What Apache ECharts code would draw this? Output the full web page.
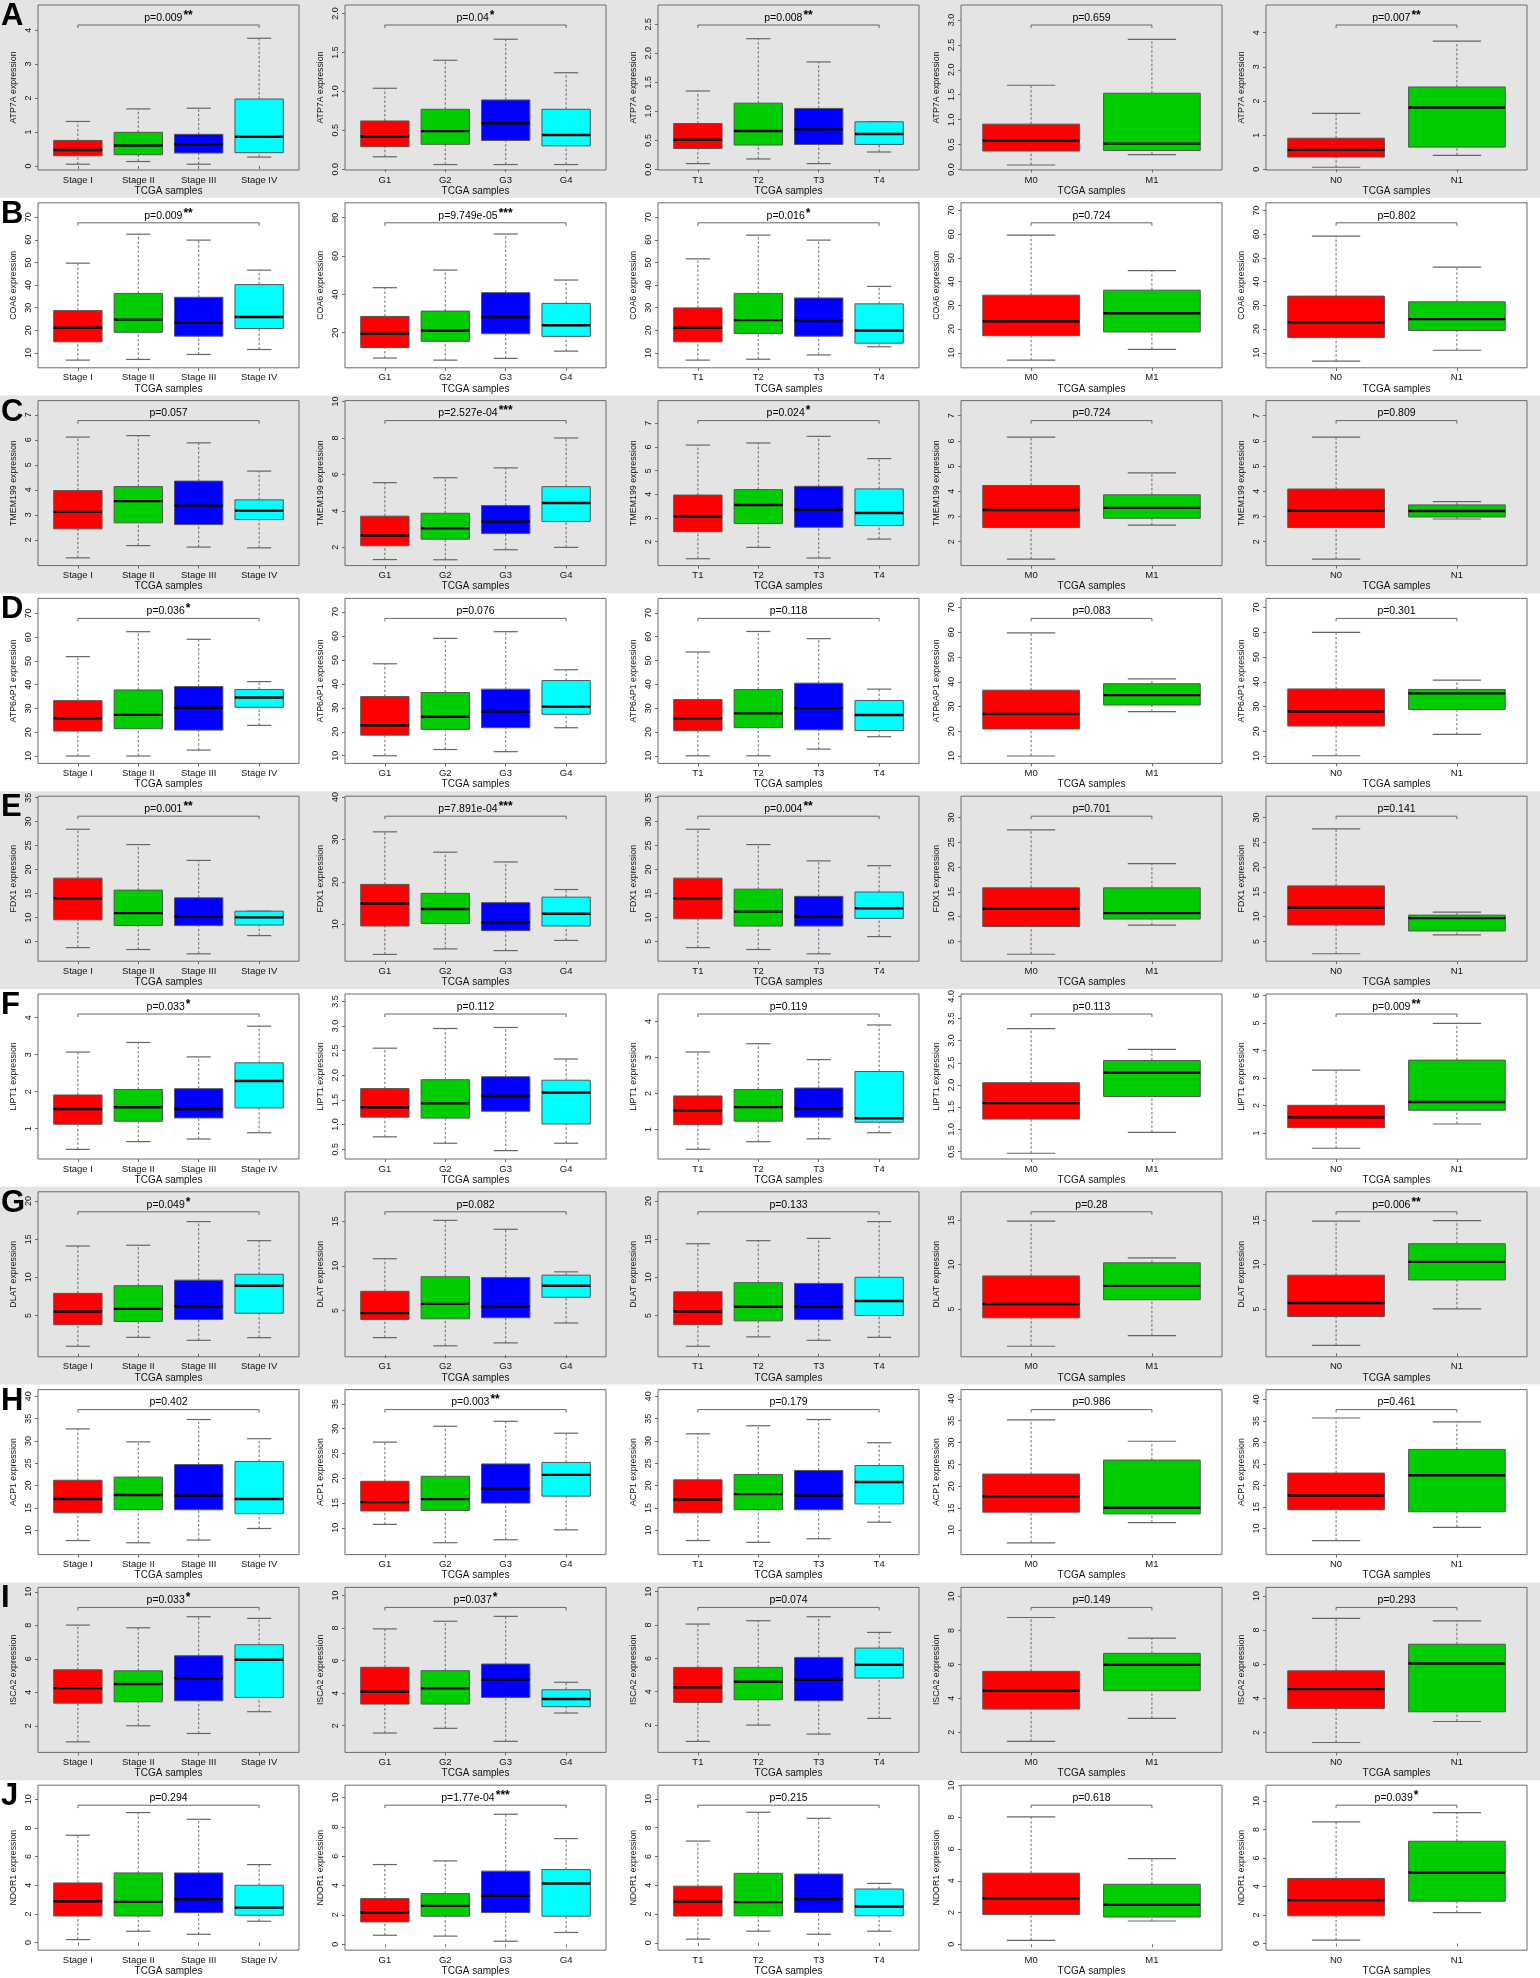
<!DOCTYPE html>
<html><head><meta charset="utf-8">
<script src="https://cdn.jsdelivr.net/npm/echarts@6/dist/echarts.min.js"></script>
<style>html,body{margin:0;padding:0;background:#fff}#c{width:1540px;height:1978px}</style>
</head><body><div id="c"></div>
<script>
// ---------- categories ----------
const stageGroups = ['Stage I', 'Stage II', 'Stage III', 'Stage IV'];
const gradeGroups = ['G1', 'G2', 'G3', 'G4'];
const tGroups = ['T1', 'T2', 'T3', 'T4'];
const mGroups = ['M0', 'M1'];
const nGroups = ['N0', 'N1'];
const panelGroups = [stageGroups, gradeGroups, tGroups, mGroups, nGroups];
const genes = ['ATP7A', 'COA6', 'TMEM199', 'ATP6AP1', 'FDX1', 'LIPT1', 'DLAT', 'ACP1', 'ISCA2', 'NDOR1'];
const rowLetters = ['A', 'B', 'C', 'D', 'E', 'F', 'G', 'H', 'I', 'J'];
const groupColors = ['#FF0000', '#00CD00', '#0000FF', '#00FFFF'];

// ---------- box statistics: [whisker low, Q1, median, Q3, whisker high] ----------
const ATP7A_box = [
  [[0.05,0.30,0.47,0.75,1.31],[0.13,0.33,0.60,0.99,1.68],[0.05,0.38,0.64,0.93,1.70],[0.26,0.39,0.86,1.97,3.76]],
  [[0.16,0.29,0.42,0.62,1.04],[0.06,0.32,0.49,0.77,1.40],[0.06,0.37,0.59,0.89,1.67],[0.06,0.30,0.44,0.77,1.24]],
  [[0.10,0.36,0.51,0.79,1.35],[0.18,0.42,0.66,1.14,2.25],[0.10,0.43,0.69,1.05,1.85],[0.30,0.43,0.61,0.82,0.82]],
  [[0.09,0.37,0.58,0.91,1.69],[0.30,0.38,0.52,1.53,2.61]],
  [[0.06,0.36,0.57,0.91,1.64],[0.41,0.65,1.81,2.41,3.75]]
];
const COA6_box = [
  [[6.8,14.9,21.1,28.7,49.7],[7.1,19.1,24.7,36.3,62.5],[9.3,17.4,23.3,34.6,59.9],[11.5,20.8,25.9,40.2,46.6]],
  [[6.8,12.3,19.5,28.5,43.5],[5.7,15.5,21.2,31.3,52.7],[6.6,19.5,28.2,40.9,71.5],[10.4,18.1,23.9,35.3,47.5]],
  [[6.8,14.9,21.1,29.9,51.6],[7.2,18.6,24.5,36.3,62.1],[9.1,17.4,24.3,34.3,59.9],[12.7,14.3,19.9,31.7,39.4]],
  [[6.9,17.2,23.3,34.3,59.6],[11.5,18.8,26.7,36.4,44.6]],
  [[6.5,16.5,22.9,33.9,59.2],[11.1,19.4,24.2,31.5,46.1]]
];
const TMEM199_box = [
  [[1.28,2.44,3.12,3.97,6.11],[1.77,2.68,3.55,4.13,6.17],[1.71,2.61,3.37,4.35,5.88],[1.68,2.81,3.17,3.60,4.75]],
  [[1.33,2.09,2.65,3.71,5.55],[1.32,2.45,3.05,3.87,5.82],[1.87,2.76,3.42,4.29,6.36],[2.00,3.42,4.43,5.33,8.00]],
  [[1.28,2.42,3.07,3.97,6.08],[1.76,2.77,3.55,4.20,6.17],[1.31,2.61,3.35,4.34,6.45],[2.11,2.68,3.21,4.23,5.51]],
  [[1.31,2.56,3.26,4.23,6.15],[2.66,2.93,3.34,3.86,4.73]],
  [[1.31,2.56,3.23,4.09,6.15],[2.90,2.98,3.22,3.46,3.59]]
];
const ATP6AP1_box = [
  [[10.0,20.5,25.9,33.3,51.8],[10.0,21.5,27.3,37.8,62.3],[12.5,20.9,30.3,39.2,59.1],[22.9,30.5,34.6,38.0,41.3]],
  [[10.0,18.6,22.7,34.7,48.4],[12.6,21.0,26.3,36.4,59.0],[11.7,21.7,28.4,37.8,61.8],[21.7,27.3,30.5,41.4,45.9]],
  [[10.0,20.5,25.7,33.6,53.6],[10.0,21.8,27.8,37.8,62.2],[12.8,20.9,30.0,40.5,59.2],[18.0,20.6,27.1,33.2,38.0]],
  [[10.0,20.9,27.0,36.6,59.8],[27.9,30.6,34.6,39.2,41.2]],
  [[10.1,22.1,28.0,37.1,60.0],[18.7,28.8,35.3,36.9,40.7]]
];
const FDX1_box = [
  [[3.7,9.5,14.0,18.2,28.4],[3.3,8.3,10.9,15.7,25.2],[2.4,8.3,10.2,14.1,21.9],[6.2,8.4,10.0,11.3,11.3]],
  [[2.9,9.6,14.9,19.4,31.8],[4.2,10.2,13.6,17.3,27.0],[3.8,8.5,10.5,15.1,24.7],[6.2,9.6,12.5,16.4,18.2]],
  [[3.7,9.7,14.0,18.2,28.4],[3.3,8.2,11.2,15.9,25.2],[2.4,8.2,10.2,14.4,21.8],[6.0,9.8,11.9,15.3,20.8]],
  [[2.4,8.0,11.6,15.8,27.5],[8.3,9.5,10.7,15.8,20.7]],
  [[2.5,8.3,11.8,16.2,27.7],[6.3,7.1,9.7,10.3,10.9]]
];
const LIPT1_box = [
  [[0.44,1.12,1.53,1.91,3.07],[0.65,1.20,1.58,2.06,3.33],[0.72,1.29,1.53,2.08,2.94],[0.89,1.56,2.29,2.78,3.77]],
  [[0.75,1.15,1.35,1.73,2.55],[0.62,1.13,1.43,1.91,2.95],[0.47,1.27,1.58,1.97,2.97],[0.62,1.01,1.65,1.90,2.33]],
  [[0.45,1.13,1.53,1.93,3.15],[0.66,1.23,1.62,2.11,3.38],[0.74,1.34,1.58,2.15,2.94],[0.91,1.20,1.31,2.61,3.90]],
  [[0.46,1.23,1.59,2.05,3.27],[0.93,1.74,2.28,2.55,2.80]],
  [[0.45,1.20,1.57,2.01,3.29],[1.33,1.83,2.13,3.65,4.98]]
];
const DLAT_box = [
  [[0.97,3.79,5.52,7.90,14.1],[2.14,4.22,5.87,8.90,14.2],[1.75,4.48,6.21,9.63,17.3],[2.10,5.30,8.90,10.4,14.8]],
  [[1.96,4.00,4.70,7.15,10.8],[1.04,4.07,5.74,8.78,15.1],[1.37,4.19,5.44,8.70,14.1],[3.60,6.48,7.78,8.96,9.33]],
  [[0.97,3.79,5.52,8.10,14.4],[2.20,4.30,6.15,9.30,14.8],[1.75,4.48,6.15,9.20,15.1],[2.14,5.00,6.90,10.0,17.3]],
  [[0.80,4.00,5.56,8.72,14.9],[1.99,6.04,7.60,10.2,10.76]],
  [[0.90,4.15,5.67,8.80,14.9],[5.00,8.27,10.3,12.35,14.95]]
];
const ACP1_box = [
  [[7.7,13.9,17.0,21.2,32.7],[7.2,14.6,17.9,21.9,29.8],[7.8,14.6,17.8,24.7,34.8],[10.4,13.7,17.0,25.4,30.5]],
  [[10.7,13.4,15.2,19.4,27.3],[7.0,13.5,15.8,20.4,30.5],[7.6,15.0,17.9,22.9,31.5],[9.6,16.4,20.7,23.2,29.1]],
  [[7.7,13.9,16.9,21.3,31.6],[7.3,14.6,18.1,22.5,33.4],[8.1,14.6,17.8,23.4,34.8],[11.8,15.9,20.8,24.5,29.6]],
  [[7.1,14.1,17.7,22.8,35.2],[11.7,13.7,15.1,26.0,30.3]],
  [[7.2,14.4,17.7,22.9,35.7],[10.3,13.9,22.4,28.4,34.8]]
];
const ISCA2_box = [
  [[1.04,3.35,4.25,5.34,8.01],[2.00,3.43,4.49,5.28,7.85],[1.54,3.49,4.84,6.18,8.51],[2.84,3.69,5.94,6.84,8.41]],
  [[1.55,3.33,4.09,5.59,7.95],[1.84,3.33,4.30,5.38,8.42],[1.04,3.74,4.83,5.79,8.72],[2.78,3.17,3.64,4.21,4.67]],
  [[1.02,3.36,4.26,5.46,8.06],[2.00,3.52,4.60,5.46,8.26],[1.46,3.46,4.72,6.06,8.50],[2.40,4.82,5.62,6.62,7.56]],
  [[1.47,3.37,4.45,5.59,8.76],[2.82,4.45,5.98,6.65,7.55]],
  [[1.41,3.40,4.54,5.61,8.68],[2.64,3.21,6.04,7.17,8.54]]
];
const NDOR1_box = [
  [[0.21,1.86,2.88,4.16,7.49],[0.79,1.86,2.84,4.86,9.07],[0.58,2.09,3.02,4.86,8.60],[1.49,1.91,2.44,4.00,5.44]],
  [[0.61,1.52,2.16,3.11,5.43],[0.55,1.91,2.61,3.45,5.68],[0.20,2.16,3.30,4.98,8.86],[0.80,1.91,4.14,5.09,7.20]],
  [[0.26,1.86,2.85,3.94,7.07],[0.81,1.88,2.83,4.83,9.07],[0.60,2.11,3.04,4.78,8.65],[0.81,1.88,2.53,3.74,4.13]],
  [[0.25,1.88,2.90,4.48,8.02],[1.47,1.72,2.49,3.78,5.40]],
  [[0.23,1.94,3.04,4.56,8.53],[2.17,2.97,4.98,7.17,9.18]]
];

// ---------- p values: [text, stars] ----------
const ATP7A_p   = [['p=0.009','**'],['p=0.04','*'],['p=0.008','**'],['p=0.659',''],['p=0.007','**']];
const COA6_p    = [['p=0.009','**'],['p=9.749e-05','***'],['p=0.016','*'],['p=0.724',''],['p=0.802','']];
const TMEM199_p = [['p=0.057',''],['p=2.527e-04','***'],['p=0.024','*'],['p=0.724',''],['p=0.809','']];
const ATP6AP1_p = [['p=0.036','*'],['p=0.076',''],['p=0.118',''],['p=0.083',''],['p=0.301','']];
const FDX1_p    = [['p=0.001','**'],['p=7.891e-04','***'],['p=0.004','**'],['p=0.701',''],['p=0.141','']];
const LIPT1_p   = [['p=0.033','*'],['p=0.112',''],['p=0.119',''],['p=0.113',''],['p=0.009','**']];
const DLAT_p    = [['p=0.049','*'],['p=0.082',''],['p=0.133',''],['p=0.28',''],['p=0.006','**']];
const ACP1_p    = [['p=0.402',''],['p=0.003','**'],['p=0.179',''],['p=0.986',''],['p=0.461','']];
const ISCA2_p   = [['p=0.033','*'],['p=0.037','*'],['p=0.074',''],['p=0.149',''],['p=0.293','']];
const NDOR1_p   = [['p=0.294',''],['p=1.77e-04','***'],['p=0.215',''],['p=0.618',''],['p=0.039','*']];

// ---------- y tick labels ----------
const t10_70 = [10,20,30,40,50,60,70];
const ATP7A_ticks   = [[0,1,2,3,4],[0,0.5,1,1.5,2],[0,0.5,1,1.5,2,2.5],[0,0.5,1,1.5,2,2.5,3],[0,1,2,3,4]];
const COA6_ticks    = [t10_70,[20,40,60,80],t10_70,t10_70,t10_70];
const TMEM199_ticks = [[2,3,4,5,6,7],[2,4,6,8,10],[2,3,4,5,6,7],[2,3,4,5,6,7],[2,3,4,5,6,7]];
const ATP6AP1_ticks = [t10_70,t10_70,t10_70,t10_70,t10_70];
const FDX1_ticks    = [[5,10,15,20,25,30,35],[10,20,30,40],[5,10,15,20,25,30,35],[5,10,15,20,25,30],[5,10,15,20,25,30]];
const LIPT1_ticks   = [[1,2,3,4],[0.5,1,1.5,2,2.5,3,3.5],[1,2,3,4],[0.5,1,1.5,2,2.5,3,3.5,4],[1,2,3,4,5,6]];
const DLAT_ticks    = [[5,10,15,20],[5,10,15],[5,10,15,20],[5,10,15],[5,10,15]];
const ACP1_ticks    = [[10,15,20,25,30,35,40],[10,15,20,25,30,35],[10,15,20,25,30,35,40],[10,15,20,25,30,35,40],[10,15,20,25,30,35,40]];
const ISCA2_ticks   = [[2,4,6,8,10],[2,4,6,8,10],[2,4,6,8,10],[2,4,6,8,10],[2,4,6,8,10]];
const NDOR1_ticks   = [[0,2,4,6,8,10],[0,2,4,6,8,10],[0,2,4,6,8,10],[0,2,4,6,8,10],[0,2,4,6,8,10]];

// ---------- y axis extents [min, max] ----------
const ATP7A_range   = [[-0.12,4.74],[-0.01,2.11],[-0.01,2.83],[-0.01,3.30],[-0.02,4.81]];
const COA6_range    = [[3.4,76.4],[1.7,87.8],[3.4,76.4],[3.7,73.2],[3.7,73.2]];
const TMEM199_range = [[0.97,7.57],[1.0,10.05],[0.99,7.96],[1.05,7.60],[1.05,7.60]];
const ATP6AP1_range = [[6.9,76.3],[6.8,75.7],[6.8,76.1],[7.0,73.7],[7.0,73.7]];
const FDX1_range    = [[0.86,35.3],[1.3,40.2],[0.86,35.3],[1.0,34.3],[1.0,34.3]];
const LIPT1_range   = [[0.18,4.64],[0.30,3.65],[0.18,4.76],[0.33,4.05],[0.06,6.05]];
const DLAT_range    = [[-0.41,21.2],[-0.19,18.3],[-0.41,21.2],[-0.39,18.2],[-0.39,18.2]];
const ACP1_range    = [[4.55,41.5],[4.6,37.9],[4.55,41.5],[4.4,42.1],[3.95,42.3]];
const ISCA2_range   = [[0.41,10.26],[0.36,10.5],[0.36,10.26],[0.82,10.53],[0.83,10.5]];
const NDOR1_range   = [[-0.53,10.98],[-0.41,10.84],[-0.51,10.95],[-0.37,10.02],[-0.47,11.1]];

const allBox   = [ATP7A_box, COA6_box, TMEM199_box, ATP6AP1_box, FDX1_box, LIPT1_box, DLAT_box, ACP1_box, ISCA2_box, NDOR1_box];
const allP     = [ATP7A_p, COA6_p, TMEM199_p, ATP6AP1_p, FDX1_p, LIPT1_p, DLAT_p, ACP1_p, ISCA2_p, NDOR1_p];
const allTicks = [ATP7A_ticks, COA6_ticks, TMEM199_ticks, ATP6AP1_ticks, FDX1_ticks, LIPT1_ticks, DLAT_ticks, ACP1_ticks, ISCA2_ticks, NDOR1_ticks];
const allRange = [ATP7A_range, COA6_range, TMEM199_range, ATP6AP1_range, FDX1_range, LIPT1_range, DLAT_range, ACP1_range, ISCA2_range, NDOR1_range];

// ---------- layout ----------
const FONT = 'Liberation Sans, Arial, Helvetica, sans-serif';
const ROW_H = 197.8;
const COL_LEFT = [38, 345, 658, 961, 1266];
const PANEL_W = 261, PANEL_TOP = 5, PANEL_H = 165;
const GRAY = '#e4e4e4';
const FRAME = '#6a6a6a';

function renderBox(params, api) {
  const x = api.value(0);
  const vals = [1, 2, 3, 4, 5].map(k => api.coord([x, api.value(k)])[1]);
  const cx = api.coord([x, api.value(3)])[0];
  const hw = api.size([0.4, 0])[0];
  const cw = hw * 0.5;
  const [yLo, yQ1, yMd, yQ3, yHi] = vals;
  const col = groupColors[params.dataIndex];
  const dash = {stroke: '#444', lineWidth: 0.8, lineDash: [2.5, 2], fill: 'none'};
  const cap = {stroke: '#666', lineWidth: 1.2, fill: 'none'};
  return {type: 'group', children: [
    {type: 'line', shape: {x1: cx, y1: yLo, x2: cx, y2: yQ1}, style: dash},
    {type: 'line', shape: {x1: cx, y1: yQ3, x2: cx, y2: yHi}, style: dash},
    {type: 'line', shape: {x1: cx - cw, y1: yLo, x2: cx + cw, y2: yLo}, style: cap},
    {type: 'line', shape: {x1: cx - cw, y1: yHi, x2: cx + cw, y2: yHi}, style: cap},
    {type: 'rect', shape: {x: cx - hw, y: yQ3, width: 2 * hw, height: yQ1 - yQ3}, style: {fill: col, stroke: '#555', lineWidth: 1}},
    {type: 'line', shape: {x1: cx - hw, y1: yMd, x2: cx + hw, y2: yMd}, style: {stroke: '#000', lineWidth: 2.4, fill: 'none'}}
  ]};
}

function makeBracket(ptext, stars) {
  return function (params, api) {
    const x1 = api.coord([api.value(0), 0])[0];
    const x2 = api.coord([api.value(1), 0])[0];
    const y = params.coordSys.y + 20;
    const txt = stars ? '{n|' + ptext + '}{s|' + stars + '}' : '{n|' + ptext + '}';
    return {type: 'group', children: [
      {type: 'polyline', shape: {points: [[x1, y + 3], [x1, y], [x2, y], [x2, y + 3]]}, style: {stroke: '#666', lineWidth: 1, fill: 'none'}},
      {type: 'text', x: (x1 + x2) / 2, y: y - 1.5, style: {
        text: txt, align: 'center', verticalAlign: 'bottom', fill: '#000',
        rich: {
          n: {fontSize: 10.5, fontFamily: FONT, fill: '#000', verticalAlign: 'bottom'},
          s: {fontSize: 12, fontWeight: 'bold', fontFamily: FONT, fill: '#000', verticalAlign: 'bottom', padding: [0, 0, 2, 1]}
        }
      }}
    ]};
  };
}

const grids = [], xAxes = [], yAxes = [], series = [], graphics = [];
for (let r = 0; r < 10; r++) {
  const rowTop = r * ROW_H;
  const grayRow = r % 2 === 0;
  if (grayRow) {
    graphics.push({type: 'rect', z: -100, shape: {x: 0, y: rowTop, width: 1540, height: ROW_H}, style: {fill: GRAY}});
  }
  for (let c = 0; c < 5; c++) {
    const idx = r * 5 + c;
    const cats = panelGroups[c];
    const n = cats.length;
    const ticks = allTicks[r][c];
    const dec = ticks.some(v => Math.abs(v - Math.round(v)) > 1e-9) ? 1 : 0;
    grids.push({left: COL_LEFT[c], top: rowTop + PANEL_TOP, width: PANEL_W, height: PANEL_H,
      show: true, borderColor: FRAME, borderWidth: 1, backgroundColor: 'transparent', containLabel: false});
    xAxes.push({
      type: 'value', gridIndex: idx, min: 0.5 - 0.04 * n, max: n + 0.5 + 0.04 * n,
      name: 'TCGA samples', nameLocation: 'middle', nameGap: 16,
      nameTextStyle: {fontSize: 10, color: '#111', fontFamily: FONT},
      axisLine: {show: false}, splitLine: {show: false},
      axisTick: {show: true, length: 3, lineStyle: {color: FRAME}, customValues: cats.map((_, i) => i + 1)},
      axisLabel: {fontSize: 9.5, color: '#111', fontFamily: FONT, margin: 5,
        customValues: cats.map((_, i) => i + 1), formatter: v => cats[Math.round(v) - 1] || ''}
    });
    yAxes.push({
      type: 'value', gridIndex: idx, min: allRange[r][c][0], max: allRange[r][c][1],
      name: genes[r] + ' expression', nameLocation: 'middle', nameGap: 20, nameRotate: 90,
      nameTextStyle: {fontSize: 8.8, color: '#111', fontFamily: FONT},
      axisLine: {show: false}, splitLine: {show: false},
      axisTick: {show: true, length: 3, lineStyle: {color: FRAME}, customValues: ticks},
      axisLabel: {fontSize: 9, color: '#111', fontFamily: FONT, rotate: 90, margin: 5,
        customValues: ticks, formatter: v => Number(v).toFixed(dec)}
    });
    series.push({
      type: 'custom', xAxisIndex: idx, yAxisIndex: idx, renderItem: renderBox,
      encode: {x: 0, y: [1, 2, 3, 4, 5]},
      data: allBox[r][c].map((d, i) => [i + 1].concat(d)), clip: false, z: 3
    });
    series.push({
      type: 'custom', xAxisIndex: idx, yAxisIndex: idx,
      renderItem: makeBracket(allP[r][c][0], allP[r][c][1]),
      encode: {x: [0, 1]}, data: [[1, n]], clip: false, z: 4
    });
  }
  graphics.push({type: 'text', z: 100, x: 1, y: rowTop + 1,
    style: {text: rowLetters[r], font: 'bold 31px ' + FONT, fill: '#000'}});
}

const chart = echarts.init(document.getElementById('c'), null, {renderer: 'canvas'});
chart.setOption({
  animation: false,
  backgroundColor: '#ffffff',
  textStyle: {fontFamily: FONT},
  grid: grids, xAxis: xAxes, yAxis: yAxes, series: series,
  graphic: {elements: graphics}
});
</script></body></html>
